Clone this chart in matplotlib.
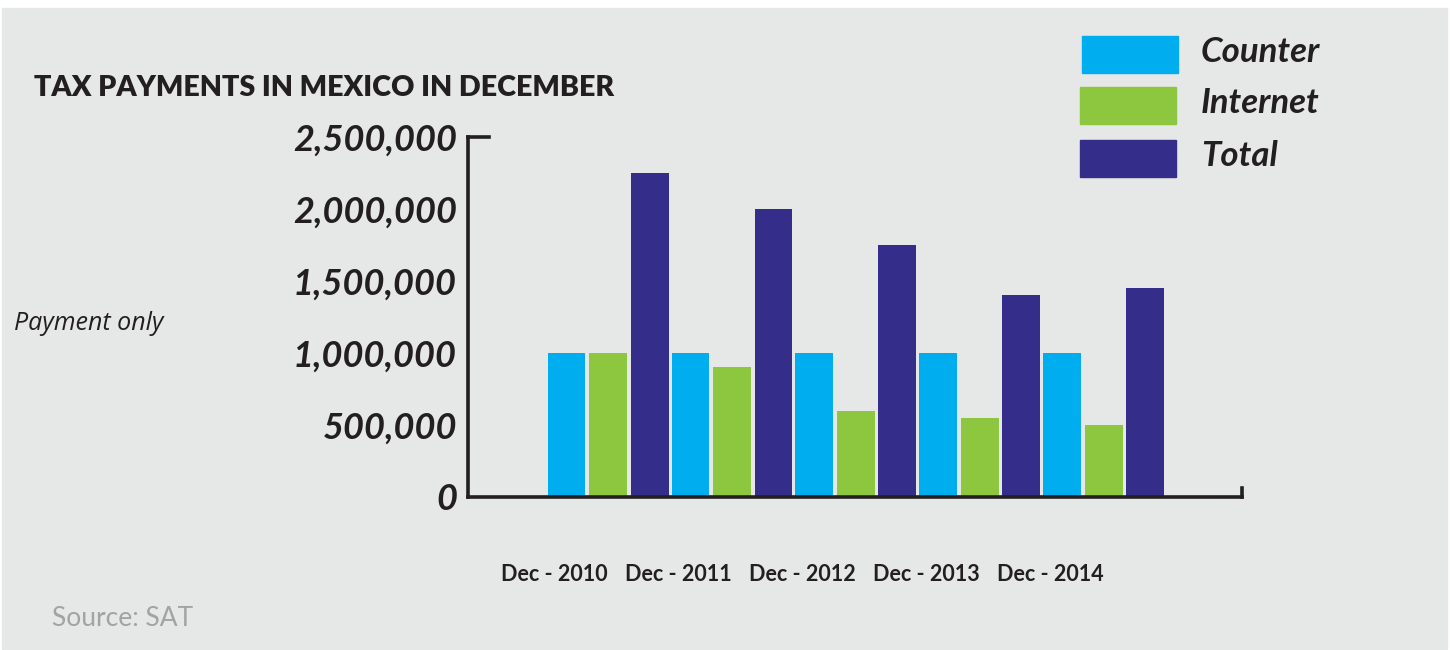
import numpy as np
import matplotlib.pyplot as plt
from matplotlib.patches import Rectangle

plt.rcParams['font.family'] = ['Lato', 'DejaVu Sans']

years = ['Dec - 2010', 'Dec - 2011', 'Dec - 2012', 'Dec - 2013', 'Dec - 2014']
counter = [1000000, 1000000, 1000000, 1000000, 1000000]
internet = [1000000, 900000, 600000, 550000, 500000]
total = [2250000, 2000000, 1750000, 1400000, 1450000]
yticks = [0, 500000, 1000000, 1500000, 2000000, 2500000]

c_counter = '#00aeef'
c_internet = '#8dc63f'
c_total = '#342e8a'
bg = '#e6e7e7'
ink = '#231f20'

fig = plt.figure(figsize=(14.53, 6.5), dpi=100)
fig.patch.set_facecolor('white')
# grey panel with a thin white margin
fig.patches.append(Rectangle((2 / 1453, 1 / 650), 1445 / 1453, 641 / 650,
                             transform=fig.transFigure, color=bg, zorder=-5))

ax = fig.add_axes([468 / 1453, 1 - 497 / 650, 774 / 1453, 360 / 650])
ax.set_facecolor('none')
ax.set_zorder(2)

x = np.arange(len(years))
w = 0.306
step = 0.335
ax.bar(x - step, counter, w, color=c_counter, zorder=2)
ax.bar(x, internet, w, color=c_internet, zorder=2)
ax.bar(x + step, total, w, color=c_total, zorder=2)

ax.set_xlim(-1.13, 5.115)
ax.set_ylim(0, 2500000)

for s in ['top', 'right']:
    ax.spines[s].set_visible(False)
for s in ['left', 'bottom']:
    ax.spines[s].set_color(ink)
    ax.spines[s].set_linewidth(2.6)
    ax.spines[s].set_zorder(3)

ax.set_yticks(yticks)
ax.set_yticklabels([f'{v:,}' for v in yticks], fontsize=26,
                   fontweight='bold', fontstyle='italic', color=ink)
ax.tick_params(axis='y', length=0, pad=8)
ax.set_xticks([])

# short cap at top of the y axis and at right end of the x axis
ax.plot([0, 0.027], [1, 1], transform=ax.transAxes, color=ink, lw=2.6,
        clip_on=False, solid_capstyle='projecting')
ax.plot([1, 1], [0, 0.025], transform=ax.transAxes, color=ink, lw=2.6,
        clip_on=False, solid_capstyle='projecting')

# category labels sit left of each group
for xi, lab in zip(x, years):
    ax.text(xi - 0.43, -0.215, lab, transform=ax.get_xaxis_transform(),
            ha='center', va='center', fontsize=15.5, fontweight='bold',
            color=ink)

fig.text(34 / 1453, 1 - 88 / 650, 'TAX PAYMENTS IN MEXICO IN DECEMBER',
         fontsize=20.6, fontweight='heavy', color=ink, va='center', ha='left')
fig.text(14 / 1453, 1 - 323 / 650, 'Payment only', fontsize=18,
         fontstyle='italic', color=ink, va='center', ha='left',
         family=['Open Sans', 'DejaVu Sans'])
fig.text(52 / 1453, 1 - 618 / 650, 'Source: SAT', fontsize=19,
         fontweight='normal', color='#a3a3a3', va='center', ha='left')

# legend drawn as blocks with labels
legend = [('Counter', c_counter, 1082, 36), ('Internet', c_internet, 1080, 87),
          ('Total', c_total, 1080, 140)]
for name, col, lx, ly in legend:
    fig.patches.append(Rectangle((lx / 1453, 1 - (ly + 37) / 650), 96 / 1453,
                                 37 / 650, transform=fig.transFigure,
                                 color=col, zorder=1))
    fig.text(1201 / 1453, 1 - (ly + 16) / 650, name, fontsize=25,
             fontstyle='italic', fontweight='bold', color=ink,
             va='center', ha='left')

fig.savefig('out.png', dpi=100, facecolor=fig.get_facecolor())
